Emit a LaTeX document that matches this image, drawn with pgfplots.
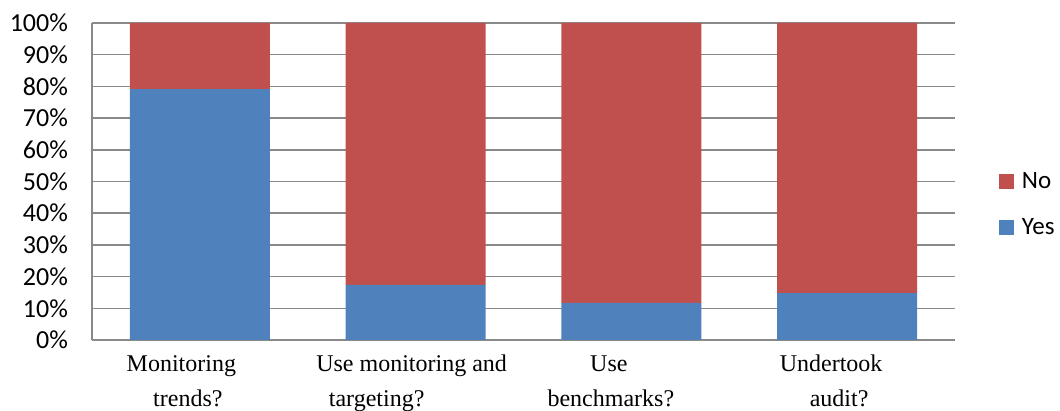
\documentclass[border=0pt]{standalone}
\usepackage{graphicx}
\usepackage{pgfplots}
\pgfplotsset{compat=1.18}
\usepackage{fontspec}
\setmainfont{Carlito}
\newfontfamily\timesf{Liberation Serif}
\definecolor{cblue}{HTML}{4F81BD}
\definecolor{cred}{HTML}{C0504D}
\definecolor{cgrid}{HTML}{898989}
% each line: shift left by #1 (pt), text #2
\newcommand\lbline[2]{\makebox[0pt]{#2\hspace*{#1pt}}}
\newcommand\xl[4]{{\timesf\fontsize{12}{17.5}\selectfont\begin{tabular}{@{}c@{}}\lbline{#1}{#2}\\\lbline{#3}{#4}\end{tabular}}}
\begin{document}
\begin{tikzpicture}
\path[use as bounding box] (0,0) rectangle (530pt,205.5pt);
\begin{axis}[
  at={(46pt,35.5pt)}, anchor=south west,
  scale only axis, width=431.5pt, height=158.5pt,
  ybar stacked, bar width=0.649,
  xmin=-0.5, xmax=3.5, ymin=0, ymax=100,
  xtick={0,1,2,3},
  xticklabels={\xl{18.5}{Monitoring}{12}{trends?},\xl{4}{Use monitoring and}{39}{targeting?},\xl{22.5}{Use}{20.5}{benchmarks?},\xl{16}{Undertook}{8}{audit?}},
  ytick={0,10,...,100},
  yticklabel={\pgfmathprintnumber{\tick}\%},
  /pgf/number format/assume math mode=true,
  yticklabel style={font=\fontsize{13}{15}\selectfont, xshift=-8.5pt},
  xticklabel style={yshift=0pt},
  major tick length=0pt,
  axis lines=left,
  axis line style={-, draw=cgrid, line width=0.75pt},
  ymajorgrids, grid style={draw=cgrid, line width=0.75pt},
  reverse legend, legend cell align=left,
  legend style={at={(1,0.4274)}, anchor=west, xshift=22pt, draw=none, fill=none, inner sep=0pt, row sep=9.5pt, font=\fontsize{12.5}{14}\selectfont, /tikz/every odd column/.append style={column sep=1.75pt}},
]
\addplot[fill=cblue, draw=none, legend image code/.code={\fill[cblue] (0pt,-3.75pt) rectangle (7.5pt,3.75pt);}] coordinates {(0,79.1) (1,17.4) (2,11.7) (3,14.8)};
\addplot[fill=cred, draw=none, legend image code/.code={\fill[cred] (0pt,-3.75pt) rectangle (7.5pt,3.75pt);}] coordinates {(0,20.9) (1,82.6) (2,88.3) (3,85.2)};
\legend{Yes,No}
\end{axis}
\end{tikzpicture}
\end{document}
